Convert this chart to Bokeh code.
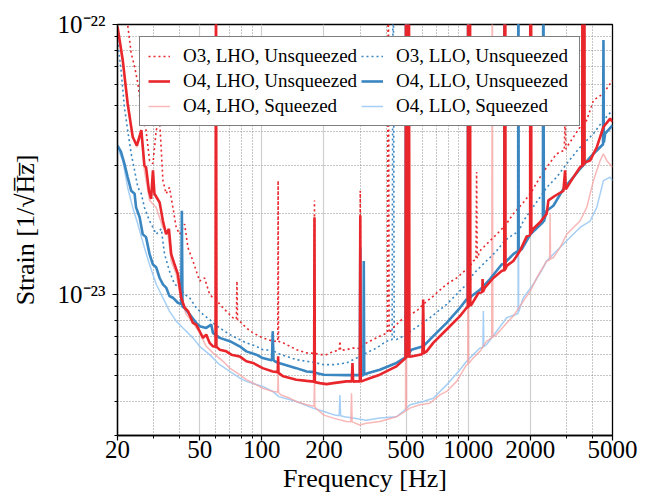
from bokeh.plotting import figure
from bokeh.models import Range1d, FixedTicker, CustomJSTickFormatter, Legend, LegendItem
from bokeh.embed import file_html
from bokeh.resources import INLINE

# ---------------- data: frequency [Hz], strain [1e-24 / sqrt(Hz)] ----------------
F_O4_LHO = [20, 21.2, 22.4, 23.7, 24.8, 26.1, 27.0, 27.5, 28.4, 29.1, 29.7, 30.2, 32.0, 33.2, 34.4, 35.5,
            36.4, 37.8, 39.2, 40.7, 42.3, 43.9, 46.4, 48.1, 50.0, 51.9, 53.8, 55.9, 58.0, 59.7, 60.0, 60.3,
            62.5, 67.3, 71.2, 78.1, 84.2, 90.7, 101, 113, 119.5, 120, 120.5, 127, 147, 165, 179.3, 180, 180.7,
            191, 206, 222, 257, 273, 275, 277, 288, 298.5, 300, 301.5, 328, 373, 449, 493,
            497, 500, 503, 505, 508, 511, 513, 516, 519,
            531, 583, 600, 605, 610, 629, 677, 786, 912, 982,
            995, 1000, 1005, 1007, 1010, 1013, 1016, 1020, 1024,
            1039, 1119, 1170, 1174, 1178, 1205, 1323, 1452,
            1495, 1500, 1505, 1508, 1512, 1516,
            1536, 1654, 1782, 1920,
            1995, 2000, 2005, 2010, 2016, 2022,
            2068, 2228, 2400, 2446, 2636, 2892, 2946, 2970, 3234, 3482, 3570, 3574, 3580, 3650, 3656, 3662,
            3894, 4196, 4520, 4868, 5000]
H_O4_LHO = [98.3, 73.9, 51.0, 38.3, 35.6, 40.6, 30.0, 29.6, 24.2, 22.6, 28.8, 23.6, 21.9, 18.7, 16.7, 17.5,
            14.1, 12.9, 11.9, 9.72, 8.92, 8.67, 7.84, 7.73, 7.30, 6.90, 7.10, 6.61, 6.42, 6.40, 300, 6.40,
            6.24, 6.15, 5.98, 5.89, 5.65, 5.57, 5.33, 5.18, 5.15, 5.90, 5.12, 4.97, 4.83, 4.78, 4.75, 19.3, 4.73,
            4.69, 4.65, 4.69, 4.76, 4.76, 5.57, 4.75, 4.76, 4.76, 19.6, 4.75, 4.87, 5.04, 5.41, 5.77,
            5.80, 300, 5.85, 5.85, 300, 5.87, 5.87, 300, 5.88,
            5.89, 5.98, 6.00, 9.58, 6.05, 6.15, 6.61, 7.41, 8.31, 8.92,
            8.95, 300, 9.00, 9.00, 300, 9.05, 9.10, 300, 9.10,
            9.18, 10.1, 10.2, 11.4, 10.2, 10.6, 11.5, 12.2,
            12.3, 300, 12.3, 12.3, 300, 12.4,
            12.75, 13.3, 14.5, 16.4,
            16.6, 300, 16.8, 16.8, 300, 16.9,
            17.5, 18.5, 19.9, 22.3, 23.2, 24.2, 28.8, 24.5, 27.2, 29.6, 30.0, 300, 30.0, 30.5, 300, 30.8,
            31.3, 35.1, 41.7, 44.8, 43.6]

F_O4_LLO = [20, 20.8, 21.6, 22.4, 23.3, 24.2, 24.6, 25.6, 26.5, 27.5, 28.6, 29.7, 30.8, 32.0, 33.2, 34.4,
            35.7, 37.1, 39.2, 40.7, 41.0, 41.3, 42.3, 44.7, 48.1, 50.0, 53.8, 56.9, 58.0, 62.5, 70.0, 78.1,
            84.2, 94.1, 101, 109, 112, 113, 114, 115.5, 121, 147, 165, 179.3, 180, 180.7, 200, 257, 298.5,
            300, 301.5, 310.5, 312, 313.5, 328, 373, 449,
            497, 500, 503, 506, 509, 512,
            531, 605, 677, 786, 912, 982, 995,
            1000, 1005, 1039, 1140, 1275, 1452, 1495, 1500, 1505, 1654, 1745, 1750, 1755, 1816, 2000, 2300,
            2312, 2325, 2400, 2586, 2892, 3234, 3482, 4043, 4500, 4520, 4540, 4606, 5000]
H_O4_LLO = [35.6, 33.7, 30.5, 27.2, 24.2, 23.6, 21.0, 19.3, 16.7, 16.3, 14.1, 12.9, 12.6, 11.5, 10.9, 10.6,
            9.86, 9.72, 9.31, 9.20, 20.4, 9.00, 8.92, 8.43, 7.84, 7.62, 7.51, 7.73, 7.20, 6.90, 6.71, 6.42,
            6.15, 5.98, 5.81, 5.73, 5.70, 7.30, 5.70, 5.65, 5.57, 5.33, 5.18, 5.15, 7.0, 5.12, 5.04, 5.02, 5.02,
            14.9, 5.00, 5.02, 13.3, 5.05, 5.11, 5.26, 5.57,
            5.85, 300, 5.90, 5.95, 300, 6.00,
            6.24, 6.42, 7.00, 7.84, 8.92, 9.58, 9.60,
            300, 9.60, 9.86, 10.4, 11.4, 12.9, 13.0, 300, 13.1, 14.1, 14.5, 300, 14.6, 14.7, 16.7, 18.5,
            300, 18.6, 20.4, 21.3, 24.6, 27.2, 29.2, 33.2, 36.0, 87.7, 36.5, 39.4, 42.3]

F_O4_LHO_SQZ = [20, 21.2, 22.4, 23.7, 24.8, 26.1, 27.0, 28.6, 30.8, 33.2, 35.1, 36.4, 38.5, 40.7, 43.1, 46.4,
                50.0, 53.8, 58.0, 64.9, 70.0, 78.1, 84.2, 94.1, 101, 113, 119.5, 120, 120.5, 124, 137, 147,
                165, 179.3, 180, 180.7, 187, 200, 222, 257, 270, 272, 274, 298, 321, 373, 449, 493, 497, 500,
                503, 522, 583, 652, 729, 786, 879, 982, 995, 1000, 1005, 1058, 1140, 1228, 1300, 1308, 1316,
                1373, 1536, 1654, 1850, 2000, 2146, 2400, 2480, 2492, 2505, 2586, 2786, 3000, 3234, 3482,
                3752, 4043, 4356, 4520, 4692, 5000]
H_O4_LHO_SQZ = [96.9, 71.8, 49.5, 38.8, 35.1, 38.8, 28.8, 22.3, 21.0, 17.7, 16.7, 13.3, 11.9, 9.44, 8.43, 7.84,
                7.20, 6.42, 6.07, 5.65, 5.33, 5.04, 4.83, 4.62, 4.49, 4.37, 4.35, 5.18, 4.33, 4.24, 4.12, 4.01,
                3.90, 3.85, 5.40, 3.82, 3.73, 3.57, 3.48, 3.38, 3.37, 4.30, 3.37, 3.28, 3.33, 3.38, 3.52, 3.68, 3.70, 300,
                3.72, 3.79, 3.90, 3.95, 4.24, 4.37, 4.76, 5.49, 5.50, 300, 5.55, 5.81, 6.15, 6.71, 6.90, 300, 6.95,
                7.10, 7.84, 8.31, 9.44, 10.3, 11.5, 13.3, 13.4, 20.0, 13.5, 13.7, 14.9, 16.7, 17.7, 18.7,
                21.0, 26.4, 31.3, 33.2, 31.3, 29.6]

F_O4_LLO_SQZ = [20, 21.2, 22.4, 23.7, 25.1, 27.0, 28.6, 30.8, 33.2, 35.7, 38.5, 41.5, 46.4, 50.0, 55.9, 62.5,
                70.0, 78.1, 84.2, 101, 113, 121, 147, 177, 200, 226, 237, 239, 241, 252, 277, 321, 373, 449,
                493, 522, 605, 677, 786, 912, 982, 1058, 1140, 1178, 1184, 1190, 1228, 1373, 1536, 1745, 1750,
                1755, 1850, 2068, 2312, 2400, 2684, 3000, 3482, 3894, 4196, 4520, 4868, 5000]
H_O4_LLO_SQZ = [35.1, 31.3, 24.9, 21.0, 18.2, 14.9, 12.9, 10.9, 9.72, 8.67, 7.96, 7.51, 6.90, 6.42, 5.98, 5.49,
                5.18, 4.90, 4.76, 4.56, 4.37, 4.18, 4.01, 3.79, 3.68, 3.57, 3.55, 4.24, 3.55, 3.52, 3.48, 3.42, 3.48, 3.52,
                3.73, 3.90, 4.01, 4.12, 4.62, 5.26, 5.65, 5.98, 6.33, 6.35, 8.67, 6.40, 6.52, 7.30, 8.19, 8.50, 300,
                8.60, 9.72, 10.9, 12.6, 13.3, 14.5, 15.8, 17.7, 18.7, 21.0, 26.4, 27.2, 26.4]

F_O3_LHO = [20, 22.4, 23.3, 24.2, 25.1, 26.5, 27.5, 28.6, 29.7, 30.8, 32.0, 33.2, 34.4, 35.7, 37.1, 38.5, 40.0,
            42.3, 43.9, 46.4, 50.0, 52.8, 55.9, 58.0, 59.7, 60.0, 60.3, 62.5, 67.3, 72.5, 75.3, 75.8, 76.3, 78.1,
            84.2, 90.7, 101, 113, 119.5, 120, 120.5, 127, 137, 147, 165, 179.3, 180, 180.7, 191, 206, 222, 237,
            239, 241, 257, 277, 298.5, 300, 301.5, 321, 346, 373, 406, 410, 414, 433, 467, 493, 497, 500, 503,
            522, 562, 605, 677, 786, 879, 982, 995, 1000, 1005, 1058, 1090, 1098, 1106, 1140, 1275, 1373, 1479,
            1495, 1500, 1505, 1654, 1850, 2000, 2228, 2400, 2684, 2920, 2946, 2970, 3000, 3482, 3752, 4043,
            4520, 5000]
H_O3_LHO = [150, 100, 78.2, 69.8, 60.5, 44.2, 40.6, 31.3, 30.5, 40.6, 44.2, 26.4, 23.6, 24.9, 21.0, 17.7, 16.7,
            18.2, 14.9, 13.3, 11.2, 11.5, 10.0, 9.72, 9.70, 300, 9.60, 9.18, 8.67, 8.19, 8.10, 11.2, 8.00, 7.96,
            7.51, 7.20, 6.90, 6.71, 6.70, 26.4, 6.70, 6.61, 6.42, 6.24, 6.07, 6.05, 22.3, 6.05, 5.98, 5.98, 6.15, 6.20,
            6.71, 6.20, 6.24, 6.33, 6.30, 24.2, 6.30, 6.61, 6.80, 7.00, 7.20, 300, 7.20, 7.51, 7.96, 8.25, 8.30, 300, 8.30,
            8.43, 8.67, 9.18, 9.86, 10.9, 11.5, 12.4, 12.4, 300, 12.5, 13.3, 13.5, 28.4, 13.6, 14.5, 15.8, 16.7, 17.7,
            17.8, 300, 17.9, 19.9, 21.9, 23.6, 27.2, 29.6, 33.2, 34.2, 46.8, 34.5, 35.1, 41.7, 44.2, 52.4,
            55.5, 62.2]

F_O3_LLO = [20, 20.8, 21.6, 22.4, 23.3, 24.2, 25.1, 26.1, 27.0, 28.6, 29.7, 30.8, 32.6, 33.8, 35.7, 37.8, 40.0,
            42.3, 44.7, 48.1, 51.9, 55.9, 58.0, 62.5, 70.0, 78.1, 84.2, 94.1, 101, 112, 113, 114, 117.7, 132, 147,
            165, 179.3, 180, 180.7, 184, 200, 222, 257, 288, 321, 360, 402, 428, 433, 438, 449, 502, 541, 652,
            786, 912, 982, 995, 1000, 1005, 1058, 1140, 1275, 1373, 1500, 1654, 1745, 1750, 1755, 1850, 2000,
            2228, 2400, 2684, 3000, 3482, 4043, 4520, 5000]
H_O3_LLO = [87.7, 67.8, 49.5, 40.6, 33.2, 28.8, 24.9, 23.6, 21.0, 18.7, 17.7, 16.7, 17.5, 14.1, 12.2, 10.9, 10.6,
            10.0, 9.72, 8.92, 8.43, 8.07, 7.84, 7.51, 7.10, 6.80, 6.61, 6.42, 6.24, 6.20, 7.30, 6.20, 6.07, 5.89, 5.73,
            5.65, 5.60, 12.9, 5.60, 5.57, 5.49, 5.49, 5.57, 5.81, 6.07, 6.33, 6.71, 6.80, 300, 6.85, 6.80, 7.10, 7.41, 8.19,
            9.18, 10.3, 10.9, 10.95, 300, 11.0, 11.9, 12.6, 13.7, 14.5, 15.8, 16.7, 17.0, 300, 17.1, 18.7, 20.4,
            22.9, 24.9, 27.2, 30.5, 35.1, 39.4, 44.2, 48.1]

UNIT = 1e-24

X_TICKS = [20, 50, 100, 200, 500, 1000, 2000, 5000]
X_MINOR = [20, 30, 40, 50, 60, 70, 80, 90, 100, 200, 300, 400, 500, 600, 700, 800, 900,
           1000, 2000, 3000, 4000, 5000]
Y_TICKS = [1e-23, 1e-22]
Y_MINOR = [3e-24, 4e-24, 5e-24, 6e-24, 7e-24, 8e-24, 9e-24,
           2e-23, 3e-23, 4e-23, 5e-23, 6e-23, 7e-23, 8e-23, 9e-23]

LABELS = ["O3, LHO, Unsqueezed", "O4, LHO, Unsqueezed", "O4, LHO, Squeezed",
          "O3, LLO, Unsqueezed", "O4, LLO, Unsqueezed", "O4, LLO, Squeezed"]

RED = "#e8262b"
BLUE = "#3a86c1"
PINK = "#f6a0a0"
LBLUE = "#9ccaf4"
FONT = "Liberation Serif"

p = figure(width=654, height=495, x_axis_type="log", y_axis_type="log",
           x_range=Range1d(20, 5000), y_range=Range1d(3e-24, 1e-22),
           output_backend="svg", toolbar_location=None,
           min_border_left=117, min_border_right=42, min_border_top=24, min_border_bottom=60)
p.background_fill_color = "white"
p.border_fill_color = "white"
p.outline_line_color = "black"
p.outline_line_width = 1.3


def add(f, h, color, width, dash="solid", alpha=1.0):
    return p.line(f, [v * UNIT for v in h], line_color=color, line_width=width,
                  line_dash=dash, line_alpha=alpha)


r_llo_sq = add(F_O4_LLO_SQZ, H_O4_LLO_SQZ, LBLUE, 1.5, alpha=0.9)
r_lho_sq = add(F_O4_LHO_SQZ, H_O4_LHO_SQZ, PINK, 1.5, alpha=0.75)
r_o3_llo = add(F_O3_LLO, H_O3_LLO, BLUE, 1.6, dash="2 3")
r_o3_lho = add(F_O3_LHO, H_O3_LHO, RED, 1.6, dash="2 3")
r_llo = add(F_O4_LLO, H_O4_LLO, BLUE, 2.6)
r_lho = add(F_O4_LHO, H_O4_LHO, RED, 2.6)

xt = FixedTicker(ticks=X_TICKS, minor_ticks=X_MINOR)
yt = FixedTicker(ticks=Y_TICKS, minor_ticks=Y_MINOR)
p.xaxis.ticker = xt
p.yaxis.ticker = yt
p.xgrid.ticker = xt
p.ygrid.ticker = yt

p.xgrid.grid_line_color = "#cfcfcf"
p.xgrid.grid_line_width = 1.2
p.xgrid.minor_grid_line_color = "#8c8c8c"
p.xgrid.minor_grid_line_dash = "1 2"
p.xgrid.minor_grid_line_width = 1
p.ygrid.grid_line_color = "#8c8c8c"
p.ygrid.grid_line_dash = "1 2"
p.ygrid.grid_line_width = 1
p.ygrid.minor_grid_line_color = "#8c8c8c"
p.ygrid.minor_grid_line_dash = "1 2"
p.ygrid.minor_grid_line_width = 1

for ax in (p.xaxis, p.yaxis):
    ax.axis_line_color = "black"
    ax.axis_line_width = 1.3
    ax.major_tick_line_color = "black"
    ax.major_tick_line_width = 1.2
    ax.minor_tick_line_color = "black"
    ax.minor_tick_line_width = 1
    ax.major_tick_out = 5
    ax.major_tick_in = 0
    ax.minor_tick_out = 3
    ax.minor_tick_in = 0
    ax.major_label_text_font = FONT
    ax.major_label_text_font_size = "25px"
    ax.major_label_text_color = "black"
    ax.axis_label_text_font = FONT
    ax.axis_label_text_font_size = "26px"
    ax.axis_label_text_font_style = "normal"
    ax.axis_label_text_color = "black"

p.xaxis.formatter = CustomJSTickFormatter(code="return tick.toFixed(0);")
p.yaxis.formatter = CustomJSTickFormatter(code="""
const sup = {'-': '\u207b', '0': '\u2070', '1': '\u00b9', '2': '\u00b2', '3': '\u00b3', '4': '\u2074',
             '5': '\u2075', '6': '\u2076', '7': '\u2077', '8': '\u2078', '9': '\u2079'};
const e = Math.round(Math.log10(tick)).toString();
let s = '10';
for (const c of e) { s += sup[c]; }
return s;
""")
p.xaxis.major_label_standoff = 0
p.yaxis.major_label_standoff = 7
p.xaxis.axis_label = "Frequency [Hz]"
p.xaxis.axis_label_standoff = 3
p.yaxis.axis_label = "Strain [1/\u221aH\u0305z\u0305]"
p.yaxis.axis_label_standoff = 15

legend = Legend(items=[LegendItem(label=LABELS[0], renderers=[r_o3_lho]),
                       LegendItem(label=LABELS[1], renderers=[r_lho]),
                       LegendItem(label=LABELS[2], renderers=[r_lho_sq]),
                       LegendItem(label=LABELS[3], renderers=[r_o3_llo]),
                       LegendItem(label=LABELS[4], renderers=[r_llo]),
                       LegendItem(label=LABELS[5], renderers=[r_llo_sq])],
                location=(22, 309), orientation="vertical", nrows=3)
legend.label_text_font = FONT
legend.label_text_font_size = "19px"
legend.label_text_color = "black"
legend.glyph_width = 22
legend.glyph_height = 20
legend.label_standoff = 13
legend.label_width = 175
legend.spacing = 3
legend.padding = 8
legend.margin = 0
legend.border_line_color = "black"
legend.border_line_width = 1.2
legend.background_fill_color = "white"
legend.background_fill_alpha = 1.0
p.add_layout(legend)

open("out.html", "w").write(file_html(p, INLINE))
